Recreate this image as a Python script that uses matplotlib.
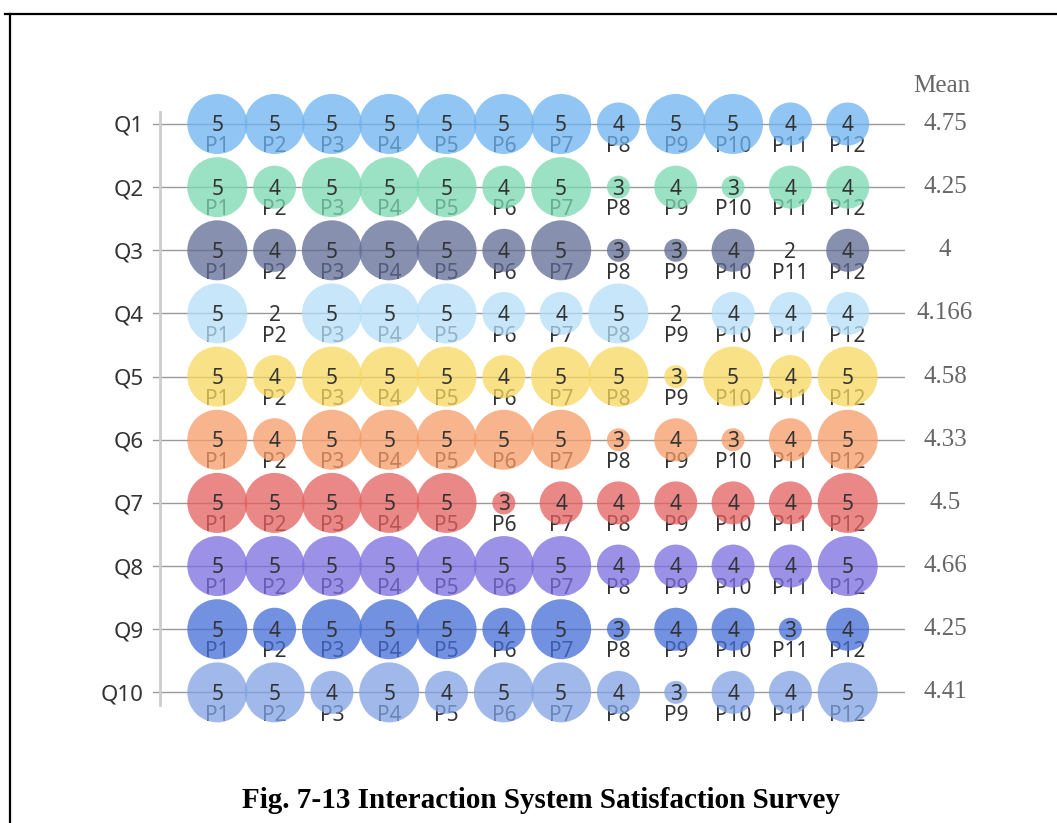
import numpy as np
import matplotlib.pyplot as plt
from matplotlib.lines import Line2D

questions = ['Q1', 'Q2', 'Q3', 'Q4', 'Q5', 'Q6', 'Q7', 'Q8', 'Q9', 'Q10']
people = ['P1', 'P2', 'P3', 'P4', 'P5', 'P6', 'P7', 'P8', 'P9', 'P10', 'P11', 'P12']

q1 = [5, 5, 5, 5, 5, 5, 5, 4, 5, 5, 4, 4]
q2 = [5, 4, 5, 5, 5, 4, 5, 3, 4, 3, 4, 4]
q3 = [5, 4, 5, 5, 5, 4, 5, 3, 3, 4, 2, 4]
q4 = [5, 2, 5, 5, 5, 4, 4, 5, 2, 4, 4, 4]
q5 = [5, 4, 5, 5, 5, 4, 5, 5, 3, 5, 4, 5]
q6 = [5, 4, 5, 5, 5, 5, 5, 3, 4, 3, 4, 5]
q7 = [5, 5, 5, 5, 5, 3, 4, 4, 4, 4, 4, 5]
q8 = [5, 5, 5, 5, 5, 5, 5, 4, 4, 4, 4, 5]
q9 = [5, 4, 5, 5, 5, 4, 5, 3, 4, 4, 3, 4]
q10 = [5, 5, 4, 5, 4, 5, 5, 4, 3, 4, 4, 5]
scores = [q1, q2, q3, q4, q5, q6, q7, q8, q9, q10]

means = ['4.75', '4.25', '4', '4.166', '4.58', '4.33', '4.5', '4.66', '4.25', '4.41']

colors = ['#6cb2ef', '#7ad8af', '#5f6c94', '#b6def8', '#f8d75f',
          '#f69b66', '#e45f5f', '#7a6cde', '#446cd7', '#80a2e4']

# bubble radius in pixels for each score
radius_px = {2: 0, 3: 11.5, 4: 21.5, 5: 30}

W, H = 1057, 823
fig = plt.figure(figsize=(W / 100, H / 100), dpi=100)
ax = fig.add_axes([160 / W, 1 - 705 / H, 745 / W, 593 / H])

ax.set_xlim(0, 13)
ax.set_ylim(10.2, 0.81)

xs = np.arange(1, len(people) + 1)
for i, row in enumerate(scores):
    y = i + 1
    ax.axhline(y, color='#9a9a9a', lw=1, zorder=0)
    sizes = [(2 * radius_px[v] * 0.72) ** 2 for v in row]
    ax.scatter(xs, [y] * len(xs), s=sizes, color=colors[i], alpha=0.75,
               edgecolors='none', zorder=2, clip_on=False)
    for x, v, p in zip(xs, row, people):
        ax.text(x, y + 0.03, str(v), ha='center', va='center', fontsize=15,
                color='#333333', family='Noto Sans', zorder=3)
        ax.text(x, y + 0.36, p, ha='center', va='center', fontsize=15,
                color='#333333', family='Noto Sans', zorder=1)
    ax.text(13.7, y, means[i], ha='center', va='center', fontsize=18,
            color='#666666', family='Liberation Serif', clip_on=False)

ax.text(13.65, 0.4, 'Mean', ha='center', va='center', fontsize=18,
        color='#666666', family='Liberation Serif', clip_on=False)

ax.set_yticks(range(1, len(questions) + 1))
ax.set_yticklabels(questions, family='Noto Sans', fontsize=16, color='#333333')
ax.set_xticks([])
ax.tick_params(axis='y', length=0, pad=12)
for s in ['top', 'right', 'bottom']:
    ax.spines[s].set_visible(False)
ax.spines['left'].set_color('#cccccc')
ax.spines['left'].set_linewidth(2)
# little tick stubs left of the axis
for i in range(len(questions)):
    ax.plot([-0.13, 0], [i + 1, i + 1], color='#9a9a9a', lw=1, clip_on=False)

# frame lines of the page
fig.add_artist(Line2D([5 / W, 1], [1 - 14 / H, 1 - 14 / H], color='black', lw=1.6))
fig.add_artist(Line2D([10 / W, 10 / W], [0, 1 - 14 / H], color='black', lw=1.6))

fig.text(541 / W, 1 - 800 / H, 'Fig. 7-13 Interaction System Satisfaction Survey',
         ha='center', va='center', fontsize=21, fontweight='bold',
         family='Liberation Serif')

fig.savefig('out.png', dpi=100)
